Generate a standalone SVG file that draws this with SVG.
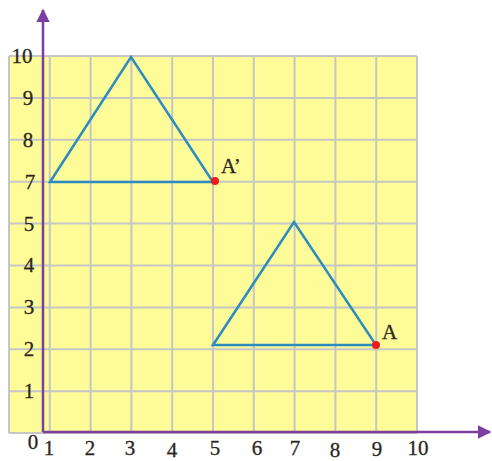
<svg xmlns="http://www.w3.org/2000/svg" width="492" height="461" viewBox="0 0 492 461">
<defs>
<style>
.grid{stroke:#c6c6c6;stroke-width:2;fill:none}
.axis{stroke:#7b3fa0;stroke-width:2.5;fill:none}
.tri{stroke:#2c8cc0;stroke-width:2.5;fill:none;stroke-linejoin:miter}
.lbl{font-family:"Liberation Serif","DejaVu Serif",serif;font-size:21px;fill:#2e261e;stroke:#2e261e;stroke-width:0.3}
.pt{fill:#ee1c1c}
</style>
<marker id="ah" viewBox="0 0 10 10" refX="9" refY="5" markerWidth="5.5" markerHeight="5.5" orient="auto" markerUnits="strokeWidth">
<path d="M0,0 L10,5 L0,10 z" fill="#7b3fa0"/>
</marker>
</defs>
<rect width="492" height="461" fill="#ffffff"/>
<g id="grid">
<rect x="9" y="56" width="408" height="377" fill="#fdfc98"/>
<path class="grid" d="M9,56V433M49.8,56V433M90.6,56V433M131.4,56V433M172.2,56V433M213,56V433M253.8,56V433M294.6,56V433M335.4,56V433M376.2,56V433M417,56V433"/>
<path class="grid" d="M9,56H417M9,97.9H417M9,139.8H417M9,181.7H417M9,223.6H417M9,265.5H417M9,307.4H417M9,349.3H417M9,391.2H417M9,433H417"/>
</g>
<g id="connectors">
<line class="axis" x1="43" y1="432" x2="43" y2="10" marker-end="url(#ah)"/>
<line class="axis" x1="43" y1="432" x2="490" y2="432" marker-end="url(#ah)"/>
</g>
<g id="triangle-image">
<polygon class="tri" points="50,182 131,57 213,182"/>
</g>
<g id="triangle-original">
<polygon class="tri" points="213,345 294,222 376,345"/>
</g>
<g id="point-A-prime">
<circle class="pt" cx="215" cy="181" r="4"/>
<text class="lbl" x="221" y="173">A’</text>
</g>
<g id="point-A">
<circle class="pt" cx="376" cy="345" r="4"/>
<text class="lbl" x="382" y="339">A</text>
</g>
<g id="y-labels" class="lbl" text-anchor="middle">
<text x="22" y="63">10</text>
<text x="28" y="105">9</text>
<text x="28" y="147">8</text>
<text x="30" y="189">7</text>
<text x="29" y="231">5</text>
<text x="29" y="272">4</text>
<text x="29" y="314">3</text>
<text x="29" y="356">2</text>
<text x="29" y="398">1</text>
<text x="33" y="449">0</text>
</g>
<g id="x-labels" class="lbl" text-anchor="middle">
<text x="49" y="455">1</text>
<text x="90" y="455">2</text>
<text x="130" y="455">3</text>
<text x="172" y="457">4</text>
<text x="215" y="455">5</text>
<text x="257" y="455">6</text>
<text x="295" y="455">7</text>
<text x="335" y="457">8</text>
<text x="377" y="456">9</text>
<text x="418" y="455">10</text>
</g>
</svg>
